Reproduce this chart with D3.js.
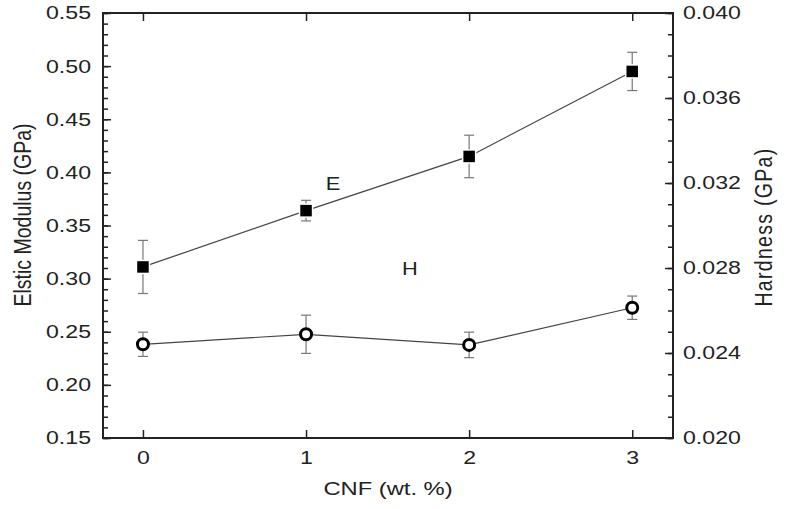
<!DOCTYPE html>
<html>
<head>
<meta charset="utf-8">
<script src="https://cdn.jsdelivr.net/npm/d3@7"></script>
<style>
  body { margin: 0; background: #fff; }
  text { font-family: "Liberation Sans", Arial, sans-serif; fill: #222; }
</style>
</head>
<body>
<script>
// data
const cnf = [0, 1, 2, 3];
const modulus = [0.311, 0.364, 0.415, 0.495];
const modulusErr = [0.025, 0.0097, 0.020, 0.018];
const hardness = [0.02441, 0.02488, 0.02438, 0.02613];
const hardnessErr = [0.00057, 0.0009, 0.0006, 0.00055];
const leftTicks = [0.15, 0.20, 0.25, 0.30, 0.35, 0.40, 0.45, 0.50, 0.55];
const rightTicks = [0.020, 0.024, 0.028, 0.032, 0.036, 0.040];

const width = 792, height = 509;
const plot = { left: 103, right: 673, top: 13, bottom: 438 };
// the source image is stretched sideways a little
const stretch = 1.25;

const svg = d3.select('body').append('svg')
    .attr('width', width)
    .attr('height', height);

const x = d3.scaleLinear().domain([-0.245, 3.25]).range([plot.left, plot.right]);
const yE = d3.scaleLinear().domain([0.15, 0.55]).range([plot.bottom, plot.top]);
const yH = d3.scaleLinear().domain([0.020, 0.040]).range([plot.bottom, plot.top]);

const minorLeft = d3.range(0.15, 0.5501, 0.01);
const minorRight = d3.range(0.020, 0.04001, 0.001);

function tickStyle(g) {
    g.select('.domain').remove();
    g.selectAll('line').attr('stroke', '#222').attr('stroke-width', 1.5);
}

// left axis
svg.append('g')
    .attr('transform', `translate(${plot.left},0)`)
    .call(d3.axisRight(yE).tickValues(minorLeft).tickSize(5).tickFormat(''))
    .call(tickStyle);
svg.append('g')
    .attr('transform', `translate(${plot.left},0)`)
    .call(d3.axisLeft(yE).tickValues(leftTicks).tickSizeInner(-8).tickSizeOuter(0).tickFormat(d3.format('.2f')))
    .call(tickStyle)
    .selectAll('text')
    .attr('x', -9.6)
    .attr('transform', `scale(${stretch},1)`)
    .style('font-size', '18.5px');

// right axis
svg.append('g')
    .attr('transform', `translate(${plot.right},0)`)
    .call(d3.axisLeft(yH).tickValues(minorRight).tickSize(5).tickFormat(''))
    .call(tickStyle);
svg.append('g')
    .attr('transform', `translate(${plot.right},0)`)
    .call(d3.axisRight(yH).tickValues(rightTicks).tickSizeInner(-8).tickSizeOuter(0).tickFormat(d3.format('.3f')))
    .call(tickStyle)
    .selectAll('text')
    .attr('x', 8)
    .attr('transform', `scale(${stretch},1)`)
    .style('font-size', '18.5px');

// bottom / top axes
svg.append('g')
    .attr('transform', `translate(0,${plot.bottom})`)
    .call(d3.axisBottom(x).tickValues(cnf).tickSizeInner(-8).tickSizeOuter(0).tickPadding(13).tickFormat(d3.format('d')))
    .call(tickStyle)
    .selectAll('text')
    .attr('transform', `scale(${stretch},1)`)
    .style('font-size', '18.5px');
svg.append('g')
    .attr('transform', `translate(0,${plot.top})`)
    .call(d3.axisTop(x).tickValues(cnf).tickSizeInner(-8).tickSizeOuter(0).tickFormat(''))
    .call(tickStyle);

// frame
svg.append('rect')
    .attr('x', plot.left).attr('y', plot.top)
    .attr('width', plot.right - plot.left).attr('height', plot.bottom - plot.top)
    .attr('fill', 'none').attr('stroke', '#222').attr('stroke-width', 2);

// axis titles
svg.append('text')
    .attr('transform', `translate(31,215) scale(${stretch},1) rotate(-90)`)
    .attr('text-anchor', 'middle')
    .style('font-size', '19.5px')
    .text('Elstic Modulus (GPa)');
svg.append('text')
    .attr('transform', `translate(772,227) scale(${stretch},1) rotate(-90)`)
    .attr('text-anchor', 'middle')
    .style('font-size', '19.5px')
    .style('letter-spacing', '1.3px')
    .text('Hardness (GPa)');
svg.append('text')
    .attr('transform', `translate(388,495) scale(${stretch},1)`)
    .attr('text-anchor', 'middle')
    .style('font-size', '19px')
    .text('CNF (wt. %)');

// series
function drawSeries(vals, errs, y, shape) {
    const pts = cnf.map((c, i) => ({ c, v: vals[i], e: errs[i] }));
    svg.append('path')
        .datum(pts)
        .attr('fill', 'none')
        .attr('stroke', '#444')
        .attr('stroke-width', 1.2)
        .attr('d', d3.line().x(d => x(d.c)).y(d => y(d.v)));

    const eb = svg.append('g').attr('stroke', '#777').attr('stroke-width', 1.2);
    eb.selectAll('.v').data(pts).enter().append('line')
        .attr('x1', d => x(d.c)).attr('x2', d => x(d.c))
        .attr('y1', d => y(d.v + d.e)).attr('y2', d => y(d.v - d.e));
    eb.selectAll('.t').data(pts).enter().append('line')
        .attr('x1', d => x(d.c) - 5).attr('x2', d => x(d.c) + 5)
        .attr('y1', d => y(d.v + d.e)).attr('y2', d => y(d.v + d.e));
    eb.selectAll('.b').data(pts).enter().append('line')
        .attr('x1', d => x(d.c) - 5).attr('x2', d => x(d.c) + 5)
        .attr('y1', d => y(d.v - d.e)).attr('y2', d => y(d.v - d.e));

    if (shape === 'square') {
        svg.selectAll(null).data(pts).enter().append('rect')
            .attr('x', d => x(d.c) - 6.5).attr('y', d => y(d.v) - 6.5)
            .attr('width', 13).attr('height', 13)
            .attr('fill', '#000').attr('stroke', '#fff').attr('stroke-width', 1.5);
    } else {
        svg.selectAll(null).data(pts).enter().append('circle')
            .attr('cx', d => x(d.c)).attr('cy', d => y(d.v))
            .attr('r', 5.5)
            .attr('fill', '#fff').attr('stroke', '#000').attr('stroke-width', 3);
    }
}

drawSeries(modulus, modulusErr, yE, 'square');
drawSeries(hardness, hardnessErr, yH, 'circle');

// series labels
svg.append('text').attr('transform', `translate(333,190) scale(1.15,1)`).attr('text-anchor', 'middle')
    .style('font-size', '19px').text('E');
svg.append('text').attr('transform', `translate(410,275) scale(1.15,1)`).attr('text-anchor', 'middle')
    .style('font-size', '19px').text('H');
</script>
</body>
</html>
